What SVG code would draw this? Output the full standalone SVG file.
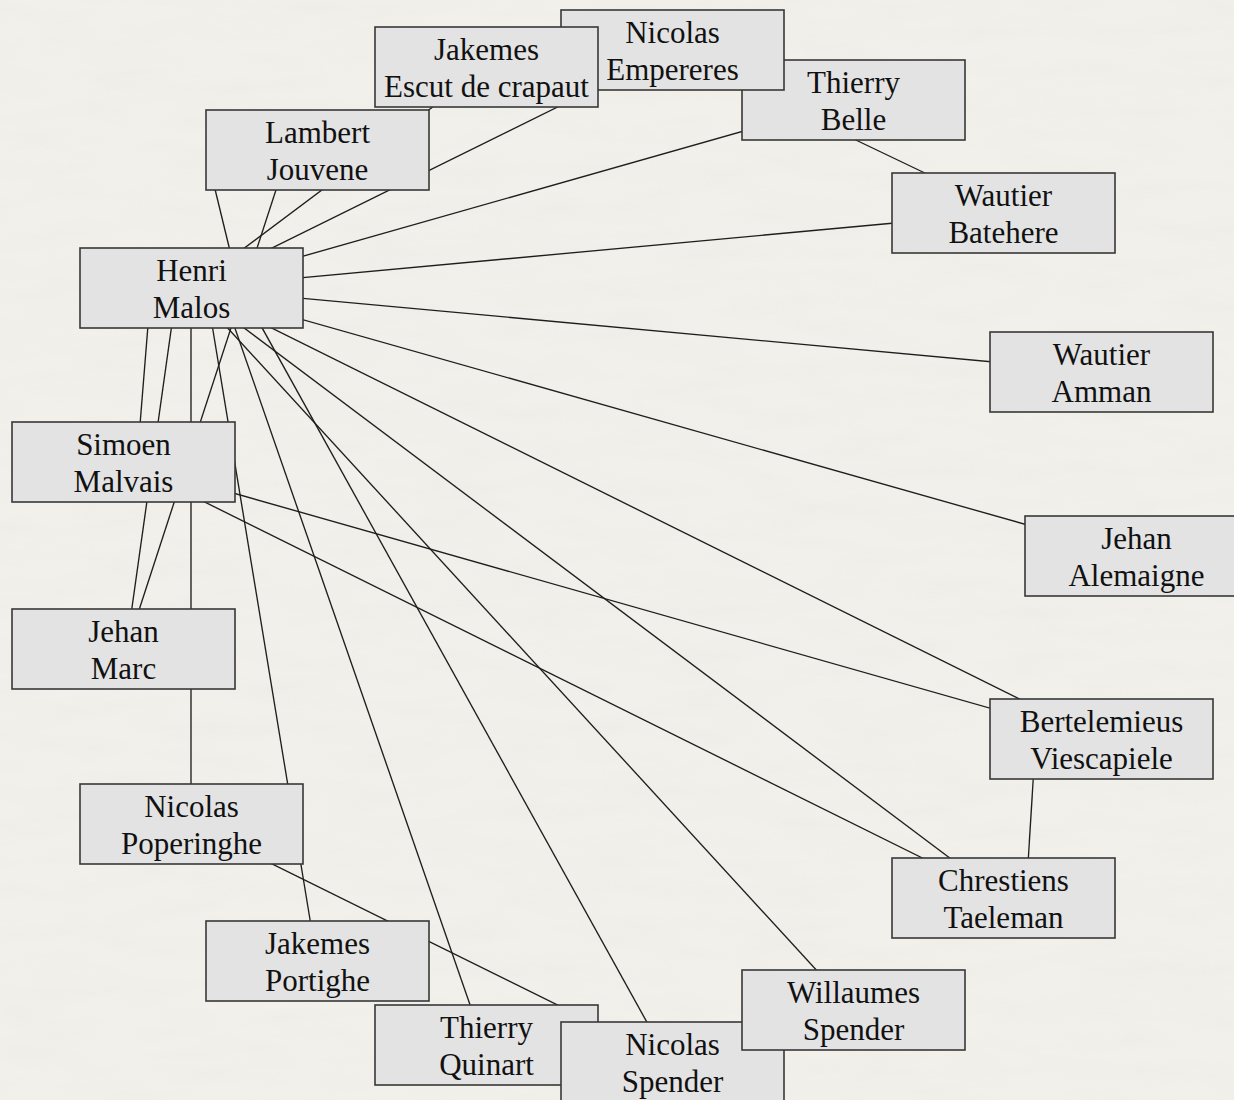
<svg xmlns="http://www.w3.org/2000/svg" width="1234" height="1100" viewBox="0 0 1234 1100">
  <style>
    .bg { fill: #f2f0eb; }
    .grain { filter: url(#paper); }
    .node rect { fill: #e3e3e3; stroke: #383838; stroke-width: 1.6; }
    .node text { font-family: "Liberation Serif", "Times New Roman", serif; font-size: 31px; fill: #111; text-anchor: middle; }
    #edges line { stroke: #1e1e1e; stroke-width: 1.35; fill: none; }
  </style>
  <defs>
    <!-- faint paper fibres over the page colour -->
    <filter id="paper" x="0" y="0" width="100%" height="100%">
      <feTurbulence type="fractalNoise" baseFrequency="0.012 0.05" numOctaves="4" seed="7" result="noise"/>
      <feColorMatrix in="noise" type="matrix"
        values="0 0 0 0 0.55
                0 0 0 0 0.53
                0 0 0 0 0.50
                0 0 0 -0.9 0.55"/>
    </filter>
  </defs>

  <rect class="bg" x="0" y="0" width="1234" height="1100"/>
  <rect class="grain" x="0" y="0" width="1234" height="1100" opacity="0.12"/>

  <!-- connectors, drawn first so the boxes sit on top of them -->
  <g id="edges">
    <line x1="214" y1="185" x2="231" y2="255"/>    <!-- Henri - Lambert -->
    <line x1="191" y1="288" x2="486" y2="67"/>     <!-- Henri - Jakemes Escut -->
    <line x1="191" y1="288" x2="673" y2="50"/>     <!-- Henri - Nicolas Empereres -->
    <line x1="191" y1="288" x2="853" y2="100"/>    <!-- Henri - Thierry Belle -->
    <line x1="191" y1="288" x2="1003" y2="213"/>   <!-- Henri - Wautier Batehere -->
    <line x1="191" y1="288" x2="1102" y2="372"/>   <!-- Henri - Wautier Amman -->
    <line x1="191" y1="288" x2="1137" y2="556"/>   <!-- Henri - Jehan Alemaigne -->
    <line x1="191" y1="288" x2="1102" y2="740"/>   <!-- Henri - Bertelemieus -->
    <line x1="191" y1="288" x2="1003" y2="898"/>   <!-- Henri - Chrestiens -->
    <line x1="191" y1="288" x2="853" y2="1010"/>   <!-- Henri - Willaumes -->
    <line x1="240" y1="288" x2="669" y2="1062"/>   <!-- Henri - Nicolas Spender -->
    <line x1="221" y1="288" x2="484" y2="1045"/>   <!-- Henri - Thierry Quinart -->
    <line x1="206" y1="288" x2="317" y2="962"/>    <!-- Henri - Jakemes Portighe -->
    <line x1="191" y1="288" x2="191" y2="824"/>    <!-- Henri - Nicolas Poperinghe -->
    <line x1="177" y1="288" x2="126" y2="650"/>    <!-- Henri - Jehan Marc -->
    <line x1="151" y1="288" x2="137" y2="462"/>    <!-- Henri - Simoen -->
    <line x1="289" y1="150" x2="126" y2="650"/>    <!-- Lambert - Jehan Marc -->
    <line x1="124" y1="462" x2="1102" y2="740"/>   <!-- Simoen - Bertelemieus -->
    <line x1="124" y1="462" x2="1003" y2="898"/>   <!-- Simoen - Chrestiens -->
    <line x1="814" y1="120" x2="975" y2="197"/>    <!-- Thierry Belle - Wautier Batehere -->
    <line x1="1035" y1="750" x2="1027" y2="880"/>  <!-- Bertelemieus - Chrestiens -->
    <line x1="191" y1="824" x2="673" y2="1062"/>   <!-- Poperinghe - Nicolas Spender -->
  </g>

  <!-- people, in drawing order (later boxes overlap earlier ones) -->
  <g id="jehan-alemaigne" class="node" transform="translate(1025,516)">
    <rect width="223" height="80"/>
    <text x="111.5" y="32.5">Jehan</text><text x="111.5" y="69.5">Alemaigne</text>
  </g>
  <g id="wautier-amman" class="node" transform="translate(990,332)">
    <rect width="223" height="80"/>
    <text x="111.5" y="32.5">Wautier</text><text x="111.5" y="69.5">Amman</text>
  </g>
  <g id="wautier-batehere" class="node" transform="translate(892,173)">
    <rect width="223" height="80"/>
    <text x="111.5" y="32.5">Wautier</text><text x="111.5" y="69.5">Batehere</text>
  </g>
  <g id="thierry-belle" class="node" transform="translate(742,60)">
    <rect width="223" height="80"/>
    <text x="111.5" y="32.5">Thierry</text><text x="111.5" y="69.5">Belle</text>
  </g>
  <g id="nicolas-empereres" class="node" transform="translate(561,10)">
    <rect width="223" height="80"/>
    <text x="111.5" y="32.5">Nicolas</text><text x="111.5" y="69.5">Empereres</text>
  </g>
  <g id="jakemes-escut-de-crapaut" class="node" transform="translate(375,27)">
    <rect width="223" height="80"/>
    <text x="111.5" y="32.5">Jakemes</text><text x="111.5" y="69.5">Escut de crapaut</text>
  </g>
  <g id="lambert-jouvene" class="node" transform="translate(206,110)">
    <rect width="223" height="80"/>
    <text x="111.5" y="32.5">Lambert</text><text x="111.5" y="69.5">Jouvene</text>
  </g>
  <g id="henri-malos" class="node" transform="translate(80,248)">
    <rect width="223" height="80"/>
    <text x="111.5" y="32.5">Henri</text><text x="111.5" y="69.5">Malos</text>
  </g>
  <g id="simoen-malvais" class="node" transform="translate(12,422)">
    <rect width="223" height="80"/>
    <text x="111.5" y="32.5">Simoen</text><text x="111.5" y="69.5">Malvais</text>
  </g>
  <g id="jehan-marc" class="node" transform="translate(12,609)">
    <rect width="223" height="80"/>
    <text x="111.5" y="32.5">Jehan</text><text x="111.5" y="69.5">Marc</text>
  </g>
  <g id="nicolas-poperinghe" class="node" transform="translate(80,784)">
    <rect width="223" height="80"/>
    <text x="111.5" y="32.5">Nicolas</text><text x="111.5" y="69.5">Poperinghe</text>
  </g>
  <g id="jakemes-portighe" class="node" transform="translate(206,921)">
    <rect width="223" height="80"/>
    <text x="111.5" y="32.5">Jakemes</text><text x="111.5" y="69.5">Portighe</text>
  </g>
  <g id="thierry-quinart" class="node" transform="translate(375,1005)">
    <rect width="223" height="80"/>
    <text x="111.5" y="32.5">Thierry</text><text x="111.5" y="69.5">Quinart</text>
  </g>
  <g id="nicolas-spender" class="node" transform="translate(561,1022)">
    <rect width="223" height="80"/>
    <text x="111.5" y="32.5">Nicolas</text><text x="111.5" y="69.5">Spender</text>
  </g>
  <g id="willaumes-spender" class="node" transform="translate(742,970)">
    <rect width="223" height="80"/>
    <text x="111.5" y="32.5">Willaumes</text><text x="111.5" y="69.5">Spender</text>
  </g>
  <g id="chrestiens-taeleman" class="node" transform="translate(892,858)">
    <rect width="223" height="80"/>
    <text x="111.5" y="32.5">Chrestiens</text><text x="111.5" y="69.5">Taeleman</text>
  </g>
  <g id="bertelemieus-viescapiele" class="node" transform="translate(990,699)">
    <rect width="223" height="80"/>
    <text x="111.5" y="32.5">Bertelemieus</text><text x="111.5" y="69.5">Viescapiele</text>
  </g>
</svg>
